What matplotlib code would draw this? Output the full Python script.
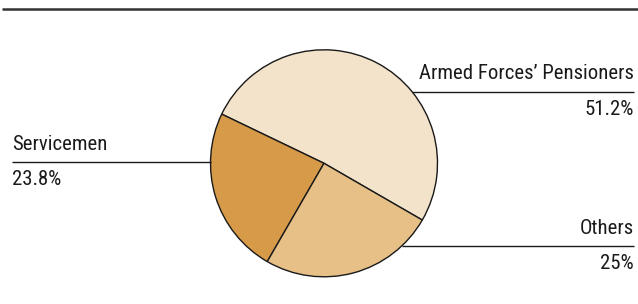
import numpy as np
import matplotlib
matplotlib.use('Agg')
import matplotlib.pyplot as plt
import matplotlib.font_manager as fm

# data
labels = ['Armed Forces\u2019 Pensioners', 'Servicemen', 'Others']
values = [51.2, 23.8, 25.0]
pct_labels = ['51.2%', '23.8%', '25%']
colors = ['#F3E3CA', '#D69A48', '#E6C087']


def pick_font():
    # look for a narrow / condensed regular face, else plain Roboto
    prefs = ['robotocondensed', 'liberationsansnarrow', 'dejavusanscondensed']
    found = {}
    for f in fm.fontManager.ttflist:
        base = f.fname.split('/')[-1].lower().replace('-', '').replace('_', '')
        if 'bold' in base or 'italic' in base or 'oblique' in base or 'light' in base:
            continue
        for p in prefs:
            if base.startswith(p):
                found.setdefault(p, f.fname)
    for p in prefs:
        if p in found:
            return fm.FontProperties(fname=found[p])
    return fm.FontProperties(family=['Roboto', 'DejaVu Sans'])


W, H = 638, 304
fig = plt.figure(figsize=(W / 100, H / 100), dpi=100)
ax = fig.add_axes([0, 0, 1, 1])

cx, cy, r = 324, 140.7, 113.5
ax.pie(values, colors=colors, startangle=-30, counterclock=True,
       center=(cx, cy), radius=r, frame=True,
       wedgeprops=dict(edgecolor='#1a1a1a', linewidth=1.0))

ax.set_xlim(0, W)
ax.set_ylim(0, H)
ax.set_aspect('auto')
ax.axis('off')

# top rule
ax.plot([2, W], [H - 8.5, H - 8.5], color='#333333', lw=1.8, solid_capstyle='butt')

# size the font so the longest label is about 215 px wide
fp = pick_font()
probe = ax.text(0, 0, labels[0], fontproperties=fp, fontsize=15)
renderer = fig.canvas.get_renderer()
wpx = probe.get_window_extent(renderer).width
probe.remove()
fs = 15 * 215 / wpx
fs = min(fs, 15.5)
fp.set_size(fs)

# leader lines: y of each line, side of label
leaders = [(212.3, 'right'), (141.7, 'left'), (58.0, 'right')]
for (ly, side), lab, pct in zip(leaders, labels, pct_labels):
    dx = np.sqrt(max(r ** 2 - (ly - cy) ** 2, 0))
    if side == 'right':
        x0, x1 = cx + dx, 634
        tx, ha = 634, 'right'
    else:
        x0, x1 = 12, cx - dx
        tx, ha = 12, 'left'
    ax.plot([x0, x1], [ly, ly], color='#1a1a1a', lw=1.0, solid_capstyle='butt')
    ax.text(tx, ly + 12.5, lab, ha=ha, va='baseline', fontproperties=fp, color='#1a1a1a')
    ax.text(tx, ly - 23, pct, ha=ha, va='baseline', fontproperties=fp, color='#1a1a1a')

fig.savefig('out.png', dpi=100)
